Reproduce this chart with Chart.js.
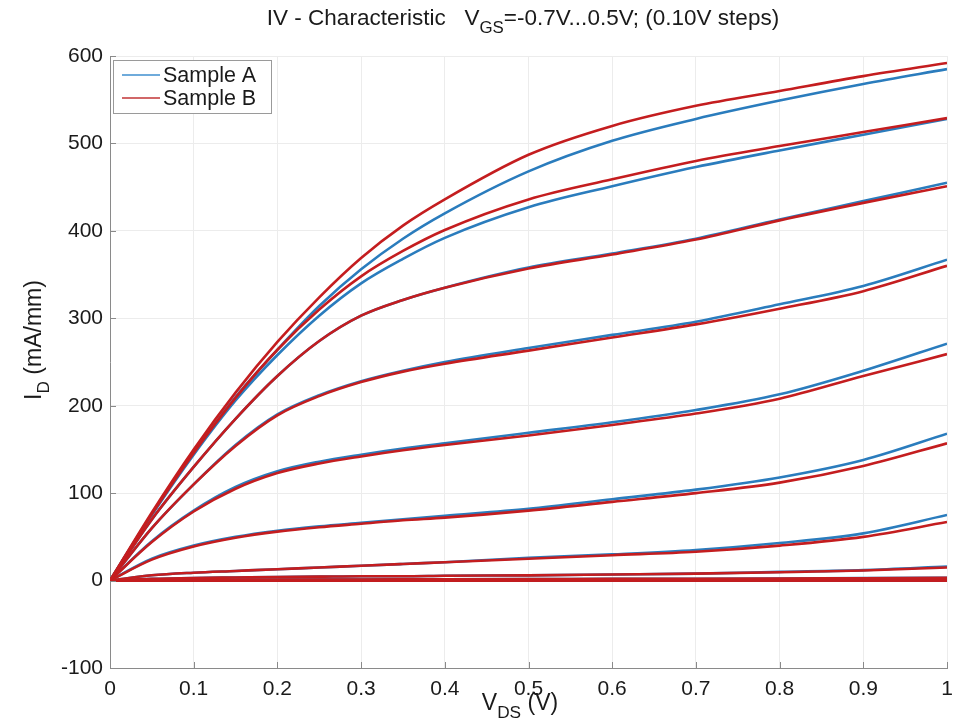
<!DOCTYPE html>
<html>
<head>
<meta charset="utf-8">
<script src="https://cdn.jsdelivr.net/npm/chart.js@4.4.1/dist/chart.umd.min.js"></script>
<style>
  html, body { margin: 0; padding: 0; background: #fff; }
</style>
</head>
<body>
<canvas id="ivChart" width="962" height="725"></canvas>
<script>
// drain voltage points (V)
const vds = [0, 0.05, 0.1, 0.15, 0.2, 0.25, 0.3, 0.35, 0.4, 0.5, 0.6, 0.7, 0.8, 0.9, 1.0];
const vgsSteps = ['0.5', '0.4', '0.3', '0.2', '0.1', '0.0', '-0.1', '-0.2', '-0.3', '-0.4', '-0.5', '-0.6', '-0.7'];
const legendNames = ['Sample A', 'Sample B'];

// Sample A, I_D in mA/mm
const a_p05 = [0, 76, 146, 210, 264, 314, 356, 391, 420, 468, 503, 528, 549, 568, 585];
const a_p04 = [0, 75, 144, 206, 258, 303, 340, 368, 392, 427, 451, 473, 492, 510, 528];
const a_p03 = [0, 70, 130, 185, 234, 274, 303, 321, 335, 358, 374, 391, 413, 434, 455];
const a_p02 = [0, 60, 110, 155, 190, 212, 228, 240, 250, 266, 281, 296, 316, 337, 367];
const a_p01 = [0, 45, 80, 107, 125, 136, 144, 151, 157, 169, 181, 195, 213, 240, 271];
const a_000 = [0, 25, 40, 50, 57, 62, 66, 70, 74, 82, 93, 104, 118, 138, 168];
const a_m01 = [0, 6, 9, 11, 13, 15, 17, 19, 21, 26, 30, 35, 43, 54, 75];
const a_m02 = [0, 2, 3, 3.5, 4, 4.5, 5, 5, 5.5, 6, 7, 8, 10, 12, 16];
const a_m03 = [0, 0.5, 0.8, 1, 1.1, 1.2, 1.3, 1.4, 1.5, 1.7, 1.9, 2.1, 2.4, 2.8, 3.3];
const a_m04 = [0, 0.2, 0.3, 0.4, 0.4, 0.5, 0.5, 0.5, 0.6, 0.6, 0.7, 0.8, 0.9, 1.0, 1.2];
const a_m05 = [0, 0.1, 0.1, 0.1, 0.2, 0.2, 0.2, 0.2, 0.2, 0.3, 0.3, 0.3, 0.4, 0.4, 0.5];
const a_m06 = [0, 0, 0, 0, 0, 0.1, 0.1, 0.1, 0.1, 0.1, 0.1, 0.1, 0.1, 0.2, 0.2];
const a_m07 = [0, 0, 0, 0, 0, 0, 0, 0, 0, 0, 0, 0, 0, 0, 0.1];

// Sample B, I_D in mA/mm
const b_p05 = [0, 78, 150, 215, 273, 324, 369, 406, 436, 487, 520, 543, 560, 577, 592];
const b_p04 = [0, 76, 146, 209, 264, 310, 348, 377, 401, 436, 459, 480, 497, 513, 529];
const b_p03 = [0, 70, 130, 185, 234, 274, 303, 321, 335, 357, 373, 390, 412, 432, 451];
const b_p02 = [0, 60, 110, 154, 189, 211, 227, 239, 248, 263, 278, 293, 311, 331, 360];
const b_p01 = [0, 44, 79, 105, 123, 134, 142, 149, 155, 166, 178, 191, 208, 234, 259];
const b_000 = [0, 24, 39, 49, 56, 61, 65, 69, 72, 80, 90, 100, 112, 131, 157];
const b_m01 = [0, 6, 9, 11, 13, 15, 17, 19, 21, 25, 29, 33, 40, 50, 67];
const b_m02 = [0, 2, 3, 3.5, 4, 4.5, 5, 5, 5.5, 6, 7, 8, 9.5, 11.5, 15];
const b_m03 = [0, 0.5, 0.8, 1, 1.1, 1.2, 1.3, 1.4, 1.5, 1.7, 1.9, 2.1, 2.3, 2.7, 3.1];
const b_m04 = [0, 0.2, 0.3, 0.4, 0.4, 0.5, 0.5, 0.5, 0.6, 0.6, 0.7, 0.8, 0.9, 1.0, 1.1];
const b_m05 = [0, 0.1, 0.1, 0.1, 0.2, 0.2, 0.2, 0.2, 0.2, 0.3, 0.3, 0.3, 0.4, 0.4, 0.5];
const b_m06 = [0, 0, 0, 0, 0, 0.1, 0.1, 0.1, 0.1, 0.1, 0.1, 0.1, 0.1, 0.2, 0.2];
const b_m07 = [0, 0, 0, 0, 0, 0, 0, 0, 0, 0, 0, 0, 0, 0, 0.1];

const sampleA = [a_p05, a_p04, a_p03, a_p02, a_p01, a_000, a_m01, a_m02, a_m03, a_m04, a_m05, a_m06, a_m07];
const sampleB = [b_p05, b_p04, b_p03, b_p02, b_p01, b_000, b_m01, b_m02, b_m03, b_m04, b_m05, b_m06, b_m07];

const blue = '#2a7cbd';
const red = '#c41d1f';
const font = '"Liberation Sans", Arial, Helvetica, sans-serif';

function makeSet(name, vgs, values, color, order) {
  return {
    label: name + ' Vgs=' + vgs,
    data: vds.map((x, i) => ({ x: x, y: values[i] })),
    borderColor: color,
    backgroundColor: color,
    borderWidth: 2.6,
    pointRadius: 0,
    fill: false,
    cubicInterpolationMode: 'monotone',
    order: order
  };
}

let datasets = [];
sampleA.forEach((c, i) => datasets.push(makeSet(legendNames[0], vgsSteps[i], c, blue, 2)));
sampleB.forEach((c, i) => datasets.push(makeSet(legendNames[1], vgsSteps[i], c, red, 1)));

// text with subscripts, centred on x
function drawParts(ctx, parts, x, y, size) {
  let total = 0;
  parts.forEach(p => {
    ctx.font = (p.sub ? size * 0.75 : size) + 'px ' + font;
    total += ctx.measureText(p.t).width;
  });
  ctx.textAlign = 'left';
  ctx.textBaseline = 'middle';
  let cx = x - total / 2;
  parts.forEach(p => {
    ctx.font = (p.sub ? size * 0.75 : size) + 'px ' + font;
    ctx.fillText(p.t, cx, p.sub ? y + size * 0.42 : y);
    cx += ctx.measureText(p.t).width;
  });
}

const extras = {
  id: 'extras',
  afterDraw(chart) {
    const ctx = chart.ctx;
    const area = chart.chartArea;
    const xs = chart.scales.x;
    const ys = chart.scales.y;
    ctx.save();

    // inward tick marks
    ctx.strokeStyle = '#8a8a8a';
    ctx.lineWidth = 1;
    ctx.beginPath();
    xs.ticks.forEach(t => {
      const px = Math.round(xs.getPixelForValue(t.value)) + 0.5;
      ctx.moveTo(px, area.bottom);
      ctx.lineTo(px, area.bottom - 6);
    });
    ys.ticks.forEach(t => {
      const py = Math.round(ys.getPixelForValue(t.value)) + 0.5;
      ctx.moveTo(area.left, py);
      ctx.lineTo(area.left + 6, py);
    });
    ctx.stroke();

    ctx.fillStyle = '#1a1a1a';
    // title
    drawParts(ctx, [
      { t: 'IV - Characteristic   V' },
      { t: 'GS', sub: true },
      { t: '=-0.7V...0.5V; (0.10V steps)' }
    ], 523, 19, 22.5);

    // x axis title
    drawParts(ctx, [{ t: 'V' }, { t: 'DS', sub: true }, { t: ' (V)' }], 520, 704, 23);

    // y axis title
    ctx.save();
    ctx.translate(35, 340);
    ctx.rotate(-Math.PI / 2);
    drawParts(ctx, [{ t: 'I' }, { t: 'D', sub: true }, { t: ' (mA/mm)' }], 0, 0, 23);
    ctx.restore();

    // legend box
    const lx = 113, ly = 60, lw = 158, lh = 53;
    ctx.fillStyle = '#fff';
    ctx.fillRect(lx, ly, lw, lh);
    ctx.strokeStyle = '#9a9a9a';
    ctx.lineWidth = 1;
    ctx.strokeRect(lx + 0.5, ly + 0.5, lw, lh);
    const cols = ['#3f8fcf', '#c23536'];
    legendNames.forEach((n, i) => {
      const yy = ly + 15 + i * 23;
      ctx.strokeStyle = cols[i];
      ctx.lineWidth = 1.5;
      ctx.beginPath();
      ctx.moveTo(lx + 9, yy);
      ctx.lineTo(lx + 47, yy);
      ctx.stroke();
      ctx.fillStyle = '#1a1a1a';
      ctx.font = '21.5px ' + font;
      ctx.textAlign = 'left';
      ctx.textBaseline = 'middle';
      ctx.fillText(n, lx + 50, yy + 1);
    });
    ctx.restore();
  }
};

new Chart(document.getElementById('ivChart'), {
  type: 'line',
  data: { datasets: datasets },
  options: {
    responsive: false,
    animation: false,
    events: [],
    layout: { padding: { left: 0, right: 15, top: 56, bottom: 0 } },
    plugins: {
      legend: { display: false },
      title: { display: false },
      tooltip: { enabled: false }
    },
    scales: {
      x: {
        type: 'linear',
        min: 0,
        max: 1,
        afterFit: s => { s.height = 57; },
        ticks: {
          stepSize: 0.1,
          color: '#1a1a1a',
          padding: 9,
          maxRotation: 0,
          font: { family: font, size: 21 },
          callback: v => String(Number(v.toFixed(1)))
        },
        grid: { color: '#ececec', drawTicks: false },
        border: { color: '#8a8a8a', width: 1 }
      },
      y: {
        min: -100,
        max: 600,
        afterFit: s => { s.width = 110; },
        ticks: {
          stepSize: 100,
          color: '#1a1a1a',
          padding: 7,
          font: { family: font, size: 21 }
        },
        grid: { color: '#ececec', drawTicks: false },
        border: { color: '#8a8a8a', width: 1 }
      }
    }
  },
  plugins: [extras]
});
</script>
</body>
</html>
